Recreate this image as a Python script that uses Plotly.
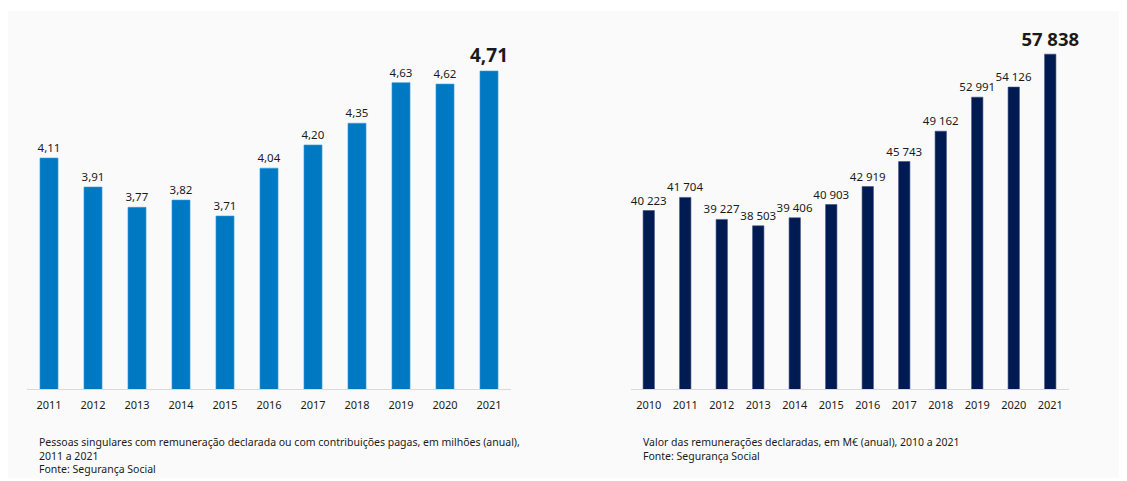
"""
Two bar charts: pessoas com remuneração declarada e valor das remunerações.
"""

import plotly.graph_objects as go

PAGE_BG   = "#ffffff"
PANEL_BG  = "#fafafa"
TEXT_COL  = "#1a1a1a"
AXIS_COL  = "#d9d9d9"
FONT      = "Noto Sans"

# --- data -------------------------------------------------------------
anos_pessoas = ["2011", "2012", "2013", "2014", "2015", "2016",
                "2017", "2018", "2019", "2020", "2021"]
pessoas_milhoes = [4.11, 3.91, 3.77, 3.82, 3.71, 4.04, 4.20, 4.35, 4.63, 4.62, 4.71]

anos_valor = ["2010", "2011", "2012", "2013", "2014", "2015", "2016",
              "2017", "2018", "2019", "2020", "2021"]
valor_meur = [40223, 41704, 39227, 38503, 39406, 40903, 42919,
              45743, 49162, 52991, 54126, 57838]

caption_left = ("Pessoas singulares com remuneração declarada ou com contribuições pagas, em milhões (anual),"
                "<br>2011 a 2021<br>Fonte: Segurança Social")
caption_right = "Valor das remunerações declaradas, em M€ (anual), 2010 a 2021<br>Fonte: Segurança Social"

# the page body has an 8px margin, so the figure sits at (8, 8) in the window
OFF = 8
WIN_W, WIN_H = 1127, 481
W, H = WIN_W - OFF, WIN_H - OFF


def px(x):
    return (x - OFF) / W


def py(y):
    return (WIN_H - y) / H


def labels(values, fmt):
    out = [fmt(v) for v in values]
    out[-1] = f"<b>{out[-1]}</b>"
    return out


def sizes(n, normal=11.5, big=19):
    return [normal] * (n - 1) + [big]


fig = go.Figure()

fig.add_trace(go.Bar(
    x=anos_pessoas,
    y=pessoas_milhoes,
    width=0.41,
    marker=dict(color="#0079c2", line=dict(color="#3d98d4", width=0.6)),
    text=labels(pessoas_milhoes, lambda v: f"{v:.2f}".replace(".", ",")),
    textposition="outside",
    constraintext="none",
    textfont=dict(color=TEXT_COL, size=sizes(len(pessoas_milhoes)), family=FONT),
    cliponaxis=False,
    xaxis="x", yaxis="y",
    hoverinfo="skip",
))

fig.add_trace(go.Bar(
    x=anos_valor,
    y=valor_meur,
    width=0.31,
    marker=dict(color="#001a52", line=dict(color="#3a4d80", width=0.6)),
    text=labels(valor_meur, lambda v: f"{v:,}".replace(",", " ")),
    textposition="outside",
    constraintext="none",
    textfont=dict(color=TEXT_COL, size=sizes(len(valor_meur), big=18.5), family=FONT),
    cliponaxis=False,
    xaxis="x2", yaxis="y2",
    hoverinfo="skip",
))

base_y = py(389)
top_y = py(11)

xaxis_common = dict(
    showgrid=False, zeroline=False, showline=True, linecolor=AXIS_COL, linewidth=1,
    ticks="", ticklabelstandoff=6,
    tickfont=dict(color=TEXT_COL, size=11, family=FONT), fixedrange=True,
)
yaxis_common = dict(visible=False, showgrid=False, zeroline=False, fixedrange=True)

fig.update_layout(
    width=W, height=H,
    margin=dict(l=0, r=0, t=0, b=0),
    paper_bgcolor=PAGE_BG,
    plot_bgcolor="rgba(0,0,0,0)",
    showlegend=False,
    font=dict(family=FONT, color=TEXT_COL),
    xaxis=dict(domain=[px(27), px(511)], **xaxis_common),
    yaxis=dict(domain=[base_y, top_y], range=[2.517, 5.124], **yaxis_common),
    xaxis2=dict(domain=[px(630.5), px(1068.5)], anchor="y2", **xaxis_common),
    yaxis2=dict(domain=[base_y, top_y], range=[20124, 62700], anchor="x2", **yaxis_common),
    shapes=[dict(
        type="rect", xref="paper", yref="paper",
        x0=0, x1=1, y0=py(478), y1=py(11),
        fillcolor=PANEL_BG, line=dict(width=0), layer="below",
    )],
    annotations=[
        dict(text=caption_left, xref="paper", yref="paper", x=px(37), y=py(433),
             xanchor="left", yanchor="top", align="left", showarrow=False,
             font=dict(size=10.5, color=TEXT_COL, family=FONT)),
        dict(text=caption_right, xref="paper", yref="paper", x=px(641), y=py(433),
             xanchor="left", yanchor="top", align="left", showarrow=False,
             font=dict(size=10.5, color=TEXT_COL, family=FONT)),
    ],
)

fig.write_html("out.html")
